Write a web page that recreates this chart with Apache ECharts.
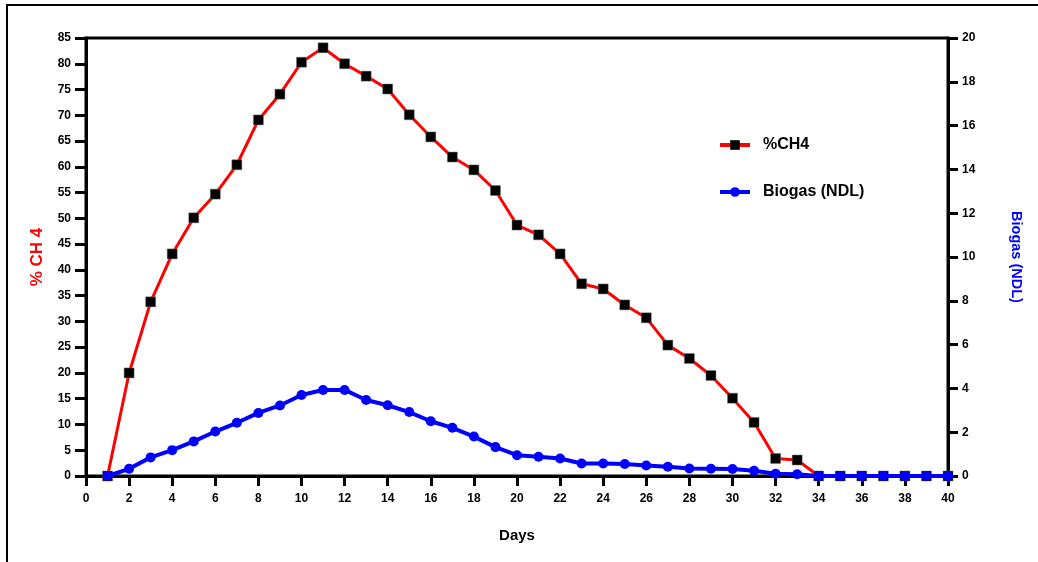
<!DOCTYPE html>
<html>
<head>
<meta charset="utf-8">
<script src="https://cdn.jsdelivr.net/npm/echarts@6/dist/echarts.min.js"></script>
<style>
  html, body { margin: 0; padding: 0; background: #fff; }
  #main { width: 1038px; height: 562px; }
</style>
</head>
<body>
<div id="main"></div>
<script>
var days = [];
for (var d = 1; d <= 40; d++) days.push(d);

// % CH4 (left axis)
var ch4 = [0, 20, 33.8, 43.1, 50.1, 54.7, 60.4, 69.1, 74.1, 80.3,
           83.1, 80.0, 77.6, 75.1, 70.1, 65.8, 61.9, 59.4, 55.4, 48.7,
           46.8, 43.1, 37.3, 36.3, 33.2, 30.7, 25.4, 22.8, 19.5, 15.1,
           10.4, 3.4, 3.1, 0, 0, 0, 0, 0, 0, 0];

// Biogas (NDL) (right axis)
var biogas = [0, 0.33, 0.85, 1.18, 1.58, 2.03, 2.43, 2.88, 3.22, 3.7,
              3.93, 3.93, 3.47, 3.23, 2.92, 2.5, 2.2, 1.8, 1.32, 0.95,
              0.88, 0.8, 0.57, 0.57, 0.55, 0.48, 0.42, 0.34, 0.33, 0.32,
              0.24, 0.1, 0.08, 0, 0, 0, 0, 0, 0, 0];

var font = 'Liberation Sans, Arial, sans-serif';

function pairs(vals) {
  return days.map(function (d, i) { return [d, vals[i]]; });
}

var myChart = echarts.init(document.getElementById('main'));

var option = {
  backgroundColor: '#fff',
  animation: false,
  graphic: [{
    type: 'rect',
    shape: { x: 7, y: 5, width: 1100, height: 700 },
    style: { fill: 'none', stroke: '#000', lineWidth: 2 }
  }],
  grid: {
    left: 86, right: 90, top: 38, bottom: 86,
    show: true, borderColor: '#000', borderWidth: 3, backgroundColor: 'transparent'
  },
  legend: {
    orient: 'vertical',
    left: 713, top: 132,
    itemGap: 31,
    itemWidth: 30, itemHeight: 12,
    lineStyle: { width: 4 },
    itemStyle: { borderWidth: 0 },
    textStyle: { fontFamily: font, fontWeight: 'bold', fontSize: 16, color: '#000', padding: [0, 0, 0, 8] },
    data: ['%CH4', 'Biogas (NDL)']
  },
  xAxis: {
    type: 'value',
    min: 0, max: 40, interval: 2,
    name: 'Days',
    nameLocation: 'middle',
    nameGap: 52,
    nameTextStyle: { fontFamily: font, fontWeight: 'bold', fontSize: 15, color: '#000' },
    axisLine: { show: true, lineStyle: { color: '#000', width: 3 } },
    axisTick: { show: true, length: 10, lineStyle: { color: '#000', width: 3 } },
    axisLabel: { margin: 17, fontFamily: font, fontWeight: 'bold', fontSize: 12, color: '#000' },
    splitLine: { show: false }
  },
  yAxis: [{
    type: 'value',
    min: 0, max: 85, interval: 5,
    position: 'left',
    name: '% CH 4',
    nameLocation: 'middle',
    nameGap: 40,
    nameRotate: 90,
    nameTextStyle: { fontFamily: font, fontWeight: 'bold', fontSize: 17, color: '#ff0000' },
    axisLine: { show: true, lineStyle: { color: '#000', width: 3 } },
    axisTick: { show: true, length: 11, lineStyle: { color: '#000', width: 3 } },
    axisLabel: { margin: 15, fontFamily: font, fontWeight: 'bold', fontSize: 12, color: '#000' },
    splitLine: { show: false }
  }, {
    type: 'value',
    min: 0, max: 20, interval: 2,
    position: 'right',
    name: 'Biogas (NDL)',
    nameLocation: 'middle',
    nameGap: 60,
    nameRotate: -90,
    nameTextStyle: { fontFamily: font, fontWeight: 'bold', fontSize: 14.5, color: '#0000ff' },
    axisLine: { show: true, lineStyle: { color: '#000', width: 3 } },
    axisTick: { show: true, length: 10, lineStyle: { color: '#000', width: 3 } },
    axisLabel: { margin: 14, fontFamily: font, fontWeight: 'bold', fontSize: 12, color: '#000' },
    splitLine: { show: false }
  }],
  series: [{
    name: '%CH4',
    type: 'line',
    yAxisIndex: 0,
    data: pairs(ch4),
    symbol: 'rect',
    symbolSize: 10,
    lineStyle: { color: '#ff0000', width: 3 },
    itemStyle: { color: '#000', borderColor: '#777', borderWidth: 0.5 },
    z: 3
  }, {
    name: 'Biogas (NDL)',
    type: 'line',
    yAxisIndex: 1,
    data: pairs(biogas),
    symbol: 'circle',
    symbolSize: 10,
    lineStyle: { color: '#0000ff', width: 4 },
    itemStyle: { color: '#0000ff' },
    z: 4
  }]
};

myChart.setOption(option);
</script>
</body>
</html>
